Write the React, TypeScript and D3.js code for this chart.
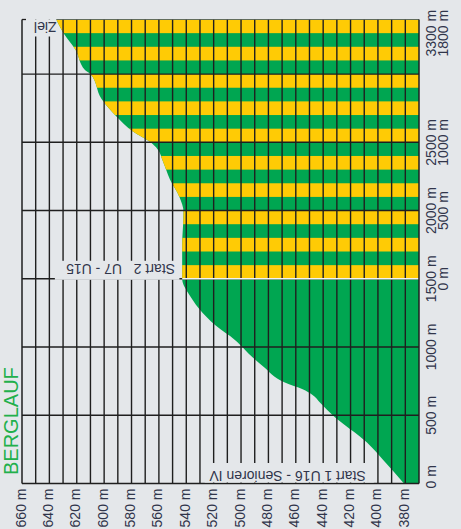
import React from "react";
import * as d3 from "d3";

// Profile data (distance in m, elevation in m)
const distances = [0, 170, 300, 500, 590, 650, 690, 740, 860, 910, 1080, 1130, 1250, 1370, 1500, 1740, 1990, 2100, 2230, 2360, 2450, 2500, 2580, 2690, 2820, 3000, 3030, 3180, 3290, 3400];
const elevations = [381, 396, 408, 433, 442, 448, 455, 468, 484, 490, 508, 515, 528, 537, 543, 543, 542, 545, 552, 557, 561, 566, 579, 591, 602, 610, 614, 621, 629, 635];

// Axis ticks
const elevTicks = [660, 640, 620, 600, 580, 560, 540, 520, 500, 480, 460, 440, 420, 400, 380];
const elevGrid = d3.range(650, 375, -10);
const distGrid = [500, 1000, 1500, 2000, 2500, 3000];
const distTicks = [0, 500, 1000, 1500, 2000, 2500, 3300];
const distLabels1 = ["0 m", "500 m", "1000 m", "1500 m", "2000 m", "2500 m", "3300 m"];
const distLabels2 = ["", "", "", "0 m", "500 m", "1000 m", "1800 m"];

const stripeStart = 1500;
const stripeStep = 100;
const distMax = 3400;
const elevMin = 370;
const elevMax = 660;

const title = "BERGLAUF";
const start1Label = "Start 1 U16 - Senioren IV";
const start2Label = "Start 2   U7 - U15";
const finishLabel = "Ziel";

const W = 461;
const H = 529;
const BG = "#e4e7ea";
const GREEN = "#00a651";
const YELLOW = "#ffcb05";
const GRID = "#1f1f1f";
const TEXT = "#30354a";
const FONT = "Liberation Sans, Arial, sans-serif";

export default function App() {
  const x = d3.scaleLinear().domain([elevMax, elevMin]).range([22, 419]);
  const y = d3.scaleLinear().domain([0, distMax]).range([483.5, 19.5]);
  const idx = distances.map((_, i) => i);

  const area = d3
    .area<number>()
    .y((i) => y(distances[i]))
    .x0((i) => x(elevations[i]))
    .x1(x(elevMin))
    .curve(d3.curveMonotoneY);
  const areaPath = area(idx) || "";

  const stripes = d3.range(stripeStart, distMax, stripeStep).filter((d) => (d / stripeStep) % 2 === 1);

  const profileAt = (d: number) => x(d3.scaleLinear().domain(distances).range(elevations)(d));

  const top = y(distMax);
  const bottom = y(0);
  const left = x(elevMax);
  const right = x(elevMin);

  return (
    <svg width={W} height={H} style={{ position: "absolute", left: 0, top: 0 }} fontFamily={FONT}>
      <rect x={0} y={0} width={W} height={H} fill={BG} />
      <defs>
        <clipPath id="terrain">
          <path d={areaPath} />
        </clipPath>
      </defs>
      {/* terrain */}
      <path d={areaPath} fill={GREEN} />
      <g clipPath="url(#terrain)">
        {stripes.map((d) => (
          <rect key={d} x={left} width={right - left} y={y(d + stripeStep)} height={y(d) - y(d + stripeStep)} fill={YELLOW} />
        ))}
      </g>
      {/* grid */}
      {elevGrid.map((e) => (
        <line key={e} x1={x(e)} x2={x(e)} y1={top} y2={bottom} stroke={GRID} strokeWidth={1.4} />
      ))}
      {distGrid.map((d) => (
        <line key={d} x1={left} x2={right} y1={y(d)} y2={y(d)} stroke={GRID} strokeWidth={1.4} />
      ))}
      <line x1={profileAt(stripeStart)} x2={right} y1={y(stripeStart)} y2={y(stripeStart)} stroke="#f2f2f2" strokeWidth={1.6} />
      <line x1={profileAt(distMax)} x2={right} y1={top} y2={top} stroke="#555" strokeWidth={0.8} />
      {/* frame */}
      <line x1={left} x2={left} y1={top} y2={bottom} stroke={GRID} strokeWidth={1.5} />
      <line x1={left} x2={left + 4} y1={top} y2={top} stroke={GRID} strokeWidth={1.3} />
      <line x1={right} x2={right} y1={top} y2={bottom} stroke={GRID} strokeWidth={1.5} />
      <line x1={left} x2={right} y1={bottom} y2={bottom} stroke={GRID} strokeWidth={1.5} />

      {/* label boxes */}
      <rect x={x(636)} y={y(1500) - 18} width={x(545) - x(636)} height={19} fill={BG} />
      <rect x={x(526.5)} y={bottom - 20.5} width={x(403) - x(526.5)} height={19.5} fill={BG} />
      <rect x={x(655)} y={top} width={x(635) - x(655)} height={17} fill={BG} />

      {/* rotated labels */}
      <text
        transform={`translate(${x(588)},${y(1500) - 15}) rotate(180)`}
        textAnchor="middle"
        fontSize={14}
        fill={TEXT}
        style={{ whiteSpace: "pre" }}
      >
        {start2Label}
      </text>
      <text
        transform={`translate(${x(466)},${bottom - 12.5}) rotate(180)`}
        textAnchor="middle"
        fontSize={14}
        fill={TEXT}
      >
        {start1Label}
      </text>
      <text transform={`translate(${x(643)},${top + 2.5}) rotate(180)`} textAnchor="middle" fontSize={14} fill={TEXT}>
        {finishLabel}
      </text>

      {/* elevation tick labels */}
      {elevTicks.map((e) => (
        <text
          key={e}
          transform={`translate(${x(e) + 3.5},${bottom + 5}) rotate(-90)`}
          textAnchor="end"
          fontSize={14}
          fill={TEXT}
        >
          {`${e} m`}
        </text>
      ))}

      {/* distance tick labels */}
      {distTicks.map((d, i) => (
        <g key={d}>
          <text
            transform={`translate(${435.5},${d === 0 ? bottom + 5 : y(d)}) rotate(-90)`}
            textAnchor={d === 0 ? "start" : "middle"}
            fontSize={14}
            fill={TEXT}
          >
            {distLabels1[i]}
          </text>
          {distLabels2[i] && (
            <text
              transform={`translate(${448},${y(d)}) rotate(-90)`}
              textAnchor="middle"
              fontSize={14}
              fill={TEXT}
            >
              {distLabels2[i]}
            </text>
          )}
        </g>
      ))}

      <text transform={`translate(17.5,475) rotate(-90)`} fontSize={20} fill="#22b04b">
        {title}
      </text>
    </svg>
  );
}
